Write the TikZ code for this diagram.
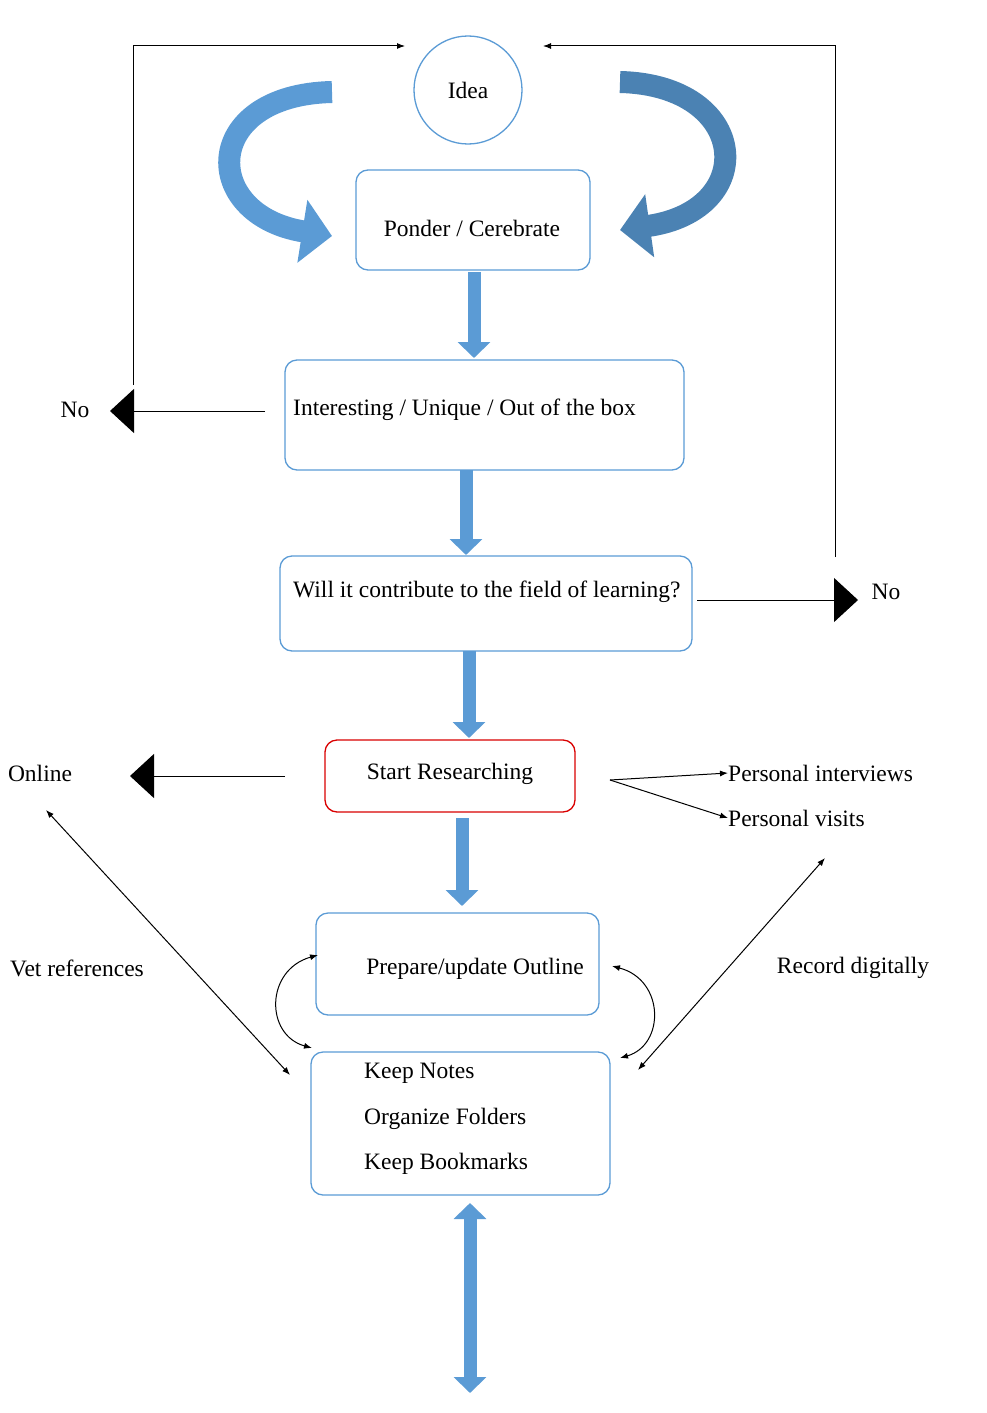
\documentclass[tikz,border=0pt]{standalone}
\usepackage{fontspec}
\setmainfont{Liberation Serif}
\usetikzlibrary{arrows.meta}
\definecolor{bl}{RGB}{91,155,213}
\definecolor{bd}{RGB}{65,113,156}
\begin{document}
\begin{tikzpicture}[x=1pt,y=-1pt,
 box/.style={draw=bl,line width=1.3pt,rounded corners=12pt},
 txt/.style={font=\fontsize{23.5}{28}\selectfont,inner sep=0pt},
 blk/.style={draw=bl,line width=13pt,-{Triangle[length=16pt,width=32pt]}},
 blkd/.style={draw=bl,line width=13pt,{Triangle[length=16pt,width=32pt]}-{Triangle[length=16pt,width=32pt]}},
 curv/.style={draw=bl,line width=22pt,-{Triangle[length=30pt,width=62pt]}},
 ln/.style={draw=black,line width=1pt},
 big/.style={ln,-{Triangle[length=24pt,width=44pt]}},
 sm/.style={ln,-{Latex[length=8pt,width=6pt]}},
 smd/.style={ln,{Latex[length=8pt,width=6pt]}-{Latex[length=8pt,width=6pt]}}]
\useasboundingbox (0,0) rectangle (986,1413);
\node[draw=bl,line width=1.3pt,circle,minimum size=108pt,txt] (idea) at (468,90) {Idea};
\draw[box] (356,170) rectangle (590,270); \node[txt] (pon) at (472,228) {Ponder / Cerebrate};
\draw[box] (285,360) rectangle (684,470); \node[txt,anchor=west] (int) at (293,410) {Interesting / Unique / Out of the box};
\draw[box] (280,556) rectangle (692,651); \node[txt,anchor=west] (will) at (293,592) {Will it contribute to the field of learning?};
\draw[box,draw=red!85!black] (325,740) rectangle (575,812); \node[txt] (sr) at (450,774) {Start Researching};
\draw[box] (316,913) rectangle (599,1015); \node[txt] (pr) at (475,969) {Prepare/update Outline};
\draw[box] (311,1052) rectangle (610,1195);
\node[txt,anchor=west] (k1) at (364,1073) {Keep Notes};
\node[txt,anchor=west] (k2) at (364,1119) {Organize Folders};
\node[txt,anchor=west] (k3) at (364,1164) {Keep Bookmarks};
% block arrows
\coordinate (a1) at (474,272); \coordinate (b1) at (474,358);
\coordinate (a2) at (466,470); \coordinate (b2) at (466,555);
\coordinate (a3) at (469,651); \coordinate (b3) at (469,738);
\coordinate (a4) at (462,818); \coordinate (b4) at (462,906);
\coordinate (a5) at (470,1203); \coordinate (b5) at (470,1393);
\draw[blk] (a1)--(b1); \draw[blk] (a2)--(b2); \draw[blk] (a3)--(b3); \draw[blk] (a4)--(b4);
\draw[blkd] (a5)--(b5);
% curved arrows
\coordinate (c1) at (332,92); \coordinate (d1) at (332,236);
\coordinate (c2) at (620,82); \coordinate (d2) at (620,230);
\draw[curv] (c1) .. controls (200,95) and (200,215) .. (d1);
\draw[curv,bd!60!bl] (c2) .. controls (750,85) and (760,210) .. (d2);
% no loops
\node[txt] (no1) at (75,410) {No};
\node[txt] (no2) at (886,592) {No};
\coordinate (p1) at (265,411); \coordinate (q1) at (110,411);
\draw[big] (p1)--(q1);
\coordinate (t1) at (133,385); \coordinate (u1) at (133,46); \coordinate (v1) at (405,46);
\draw[sm] (t1)--(u1)--(v1);
\coordinate (p2) at (697,600); \coordinate (q2) at (858,600);
\draw[big] (p2)--(q2);
\coordinate (t2) at (835,557); \coordinate (u2) at (835,46); \coordinate (v2) at (543,46);
\draw[sm] (t2)--(u2)--(v2);
% research branches
\node[txt] (on) at (40,773) {Online};
\coordinate (p3) at (285,776); \coordinate (q3) at (130,776);
\draw[big] (p3)--(q3);
\node[txt,anchor=west] (pi) at (728,773) {Personal interviews};
\node[txt,anchor=west] (pv) at (728,818) {Personal visits};
\coordinate (s) at (610,780);
\draw[sm] (s)--(pi.west); \draw[sm] (s)--(pv.west);
\node[txt] (vet) at (77,968) {Vet references};
\node[txt] (rec) at (853,968) {Record digitally};
\coordinate (e1) at (46,810); \coordinate (f1) at (290,1075);
\draw[smd] (e1)--(f1);
\coordinate (e2) at (825,858); \coordinate (f2) at (638,1070);
\draw[smd] (e2)--(f2);
\coordinate (g1) at (318,955); \coordinate (h1) at (312,1048);
\draw[smd] (g1) .. controls (265,970) and (265,1035) .. (h1);
\coordinate (g2) at (612,966); \coordinate (h2) at (620,1058);
\draw[smd] (g2) .. controls (665,980) and (665,1045) .. (h2);
\end{tikzpicture}
\end{document}
